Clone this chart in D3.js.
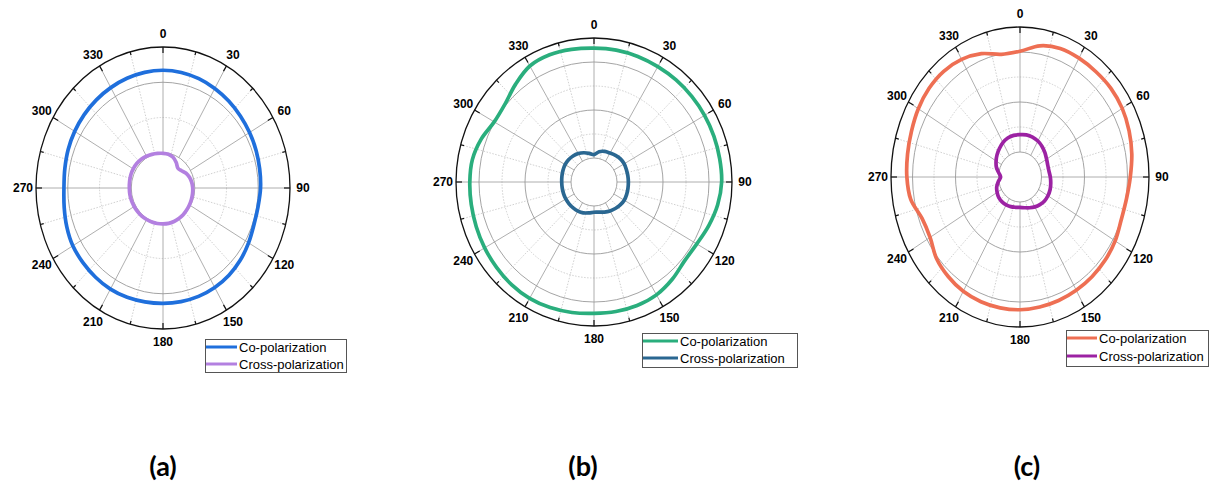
<!DOCTYPE html>
<html>
<head>
<meta charset="utf-8">
<script src="https://cdn.jsdelivr.net/npm/d3@7"></script>
<style>
	body { margin: 0; background: #fff; }
	svg { display: block; }
</style>
</head>
<body>
<svg id="chart" width="1213" height="482"></svg>
<script>
// sample angles (deg, clockwise from top) shared by every trace
const sampleAngles = [0, 10, 20, 30, 40, 50, 60, 70, 80, 90, 100, 110, 120, 130, 140, 150, 160, 170,
	180, 190, 200, 210, 220, 230, 240, 250, 260, 270, 280, 290, 300, 310, 320, 330, 340, 350]

const angleLabels = [0, 30, 60, 90, 120, 150, 180, 210, 240, 270, 300, 330]
const seriesNames = ['Co-polarization', 'Cross-polarization']
const captions = ['(a)', '(b)', '(c)']

// relative radius (outer ring = 1)
const coA = [0.835, 0.832, 0.825, 0.815, 0.805, 0.795, 0.787, 0.780, 0.773, 0.768, 0.760, 0.762,
	0.778, 0.795, 0.808, 0.815, 0.818, 0.818, 0.818, 0.820, 0.825, 0.828, 0.826, 0.823,
	0.820, 0.806, 0.790, 0.780, 0.785, 0.795, 0.803, 0.810, 0.816, 0.822, 0.828, 0.833]
const crossA = [0.246, 0.243, 0.232, 0.208, 0.183, 0.190, 0.210, 0.222, 0.230, 0.234, 0.236, 0.238,
	0.240, 0.243, 0.247, 0.250, 0.253, 0.255, 0.255, 0.256, 0.257, 0.258, 0.260, 0.261,
	0.262, 0.264, 0.265, 0.265, 0.267, 0.270, 0.271, 0.270, 0.266, 0.260, 0.254, 0.249]

const coB = [0.930, 0.930, 0.928, 0.925, 0.925, 0.925, 0.925, 0.925, 0.925, 0.925, 0.910, 0.885,
	0.860, 0.855, 0.882, 0.905, 0.913, 0.913, 0.912, 0.920, 0.928, 0.933, 0.930, 0.922,
	0.915, 0.908, 0.903, 0.900, 0.895, 0.870, 0.835, 0.842, 0.885, 0.930, 0.940, 0.935]
const crossB = [0.190, 0.214, 0.226, 0.232, 0.242, 0.250, 0.253, 0.250, 0.249, 0.249, 0.250, 0.252,
	0.253, 0.248, 0.240, 0.232, 0.222, 0.213, 0.210, 0.218, 0.228, 0.233, 0.235, 0.236,
	0.236, 0.235, 0.234, 0.234, 0.236, 0.239, 0.242, 0.241, 0.236, 0.228, 0.216, 0.202]

const coC = [0.838, 0.888, 0.912, 0.915, 0.916, 0.920, 0.915, 0.900, 0.880, 0.855, 0.838, 0.835,
	0.852, 0.862, 0.868, 0.872, 0.876, 0.880, 0.885, 0.886, 0.885, 0.880, 0.866, 0.845,
	0.805, 0.808, 0.860, 0.877, 0.885, 0.895, 0.910, 0.920, 0.920, 0.905, 0.875, 0.830]
const crossC = [0.282, 0.285, 0.283, 0.277, 0.266, 0.252, 0.238, 0.229, 0.228, 0.235, 0.242, 0.248,
	0.250, 0.248, 0.240, 0.230, 0.218, 0.208, 0.203, 0.205, 0.210, 0.214, 0.216, 0.214,
	0.205, 0.192, 0.170, 0.150, 0.168, 0.195, 0.214, 0.232, 0.248, 0.265, 0.277, 0.282]

// radial grid rings: [radius, solid?]
const ringsA = [[0.25, true], [0.5, false], [0.75, true]]
const ringsBC = [[1 / 6, true], [2 / 6, false], [3 / 6, true], [4 / 6, false], [5 / 6, true]]

const panels = [
	{ cx: 163, cy: 188, rx: 127, ry: 141, rings: ringsA, inner: 0.25, co: coA, cross: crossA,
		colors: ['#1f6fdc', '#b380e0'], legend: { x: 205, y: 339, w: 141, h: 33, len: 32, row: 17 }, capX: 163 },
	{ cx: 594, cy: 182, rx: 138, ry: 144, rings: ringsBC, inner: 1 / 6, co: coB, cross: crossB,
		colors: ['#2aae7d', '#2a6791'], legend: { x: 642, y: 333, w: 155, h: 34, len: 36, row: 17 }, capX: 583 },
	{ cx: 1020, cy: 177, rx: 129, ry: 150, rings: ringsBC, inner: 1 / 6, co: coC, cross: crossC,
		colors: ['#ee6f53', '#9c22a3'], legend: { x: 1066, y: 330, w: 142, h: 36, len: 31, row: 18 }, capX: 1027 }
]

const svg = d3.select('#chart')
const angle = d3.scaleLinear().domain([0, 360]).range([0, 2 * Math.PI])

panels.forEach((p, pi) => {
	const rX = d3.scaleLinear().domain([0, 1]).range([0, p.rx])
	const rY = d3.scaleLinear().domain([0, 1]).range([0, p.ry])
	const px = (a, r) => p.cx + rX(r) * Math.sin(angle(a))
	const py = (a, r) => p.cy - rY(r) * Math.cos(angle(a))

	const g = svg.append('g')

	// rings
	g.selectAll('ellipse.ring')
		.data(p.rings)
		.enter()
		.append('ellipse')
		.attr('cx', p.cx)
		.attr('cy', p.cy)
		.attr('rx', d => rX(d[0]))
		.attr('ry', d => rY(d[0]))
		.style('fill', 'none')
		.style('stroke', d => d[1] ? '#9a9a9a' : '#c4c4c4')
		.style('stroke-width', d => d[1] ? 0.9 : 0.8)
		.style('stroke-dasharray', d => d[1] ? null : '1.5,1.5')

	// spokes, solid every 30 deg and dotted in between
	const spokeAngles = d3.range(0, 360, 15)
	g.selectAll('line.spoke')
		.data(spokeAngles)
		.enter()
		.append('line')
		.attr('x1', d => px(d, p.inner))
		.attr('y1', d => py(d, p.inner))
		.attr('x2', d => px(d, 1))
		.attr('y2', d => py(d, 1))
		.style('stroke', d => d % 30 === 0 ? '#9a9a9a' : '#c4c4c4')
		.style('stroke-width', 0.8)
		.style('stroke-dasharray', d => d % 30 === 0 ? null : '1.5,1.5')

	// outer ring
	g.append('ellipse')
		.attr('cx', p.cx)
		.attr('cy', p.cy)
		.attr('rx', rX(1))
		.attr('ry', rY(1))
		.style('fill', 'none')
		.style('stroke', '#111')
		.style('stroke-width', 1.3)

	// ticks on outer ring
	g.selectAll('line.tick')
		.data(spokeAngles)
		.enter()
		.append('line')
		.attr('x1', d => px(d, 1))
		.attr('y1', d => py(d, 1))
		.attr('x2', d => px(d, 1 - (d % 30 === 0 ? 6 : 3.5) / p.rx))
		.attr('y2', d => py(d, 1 - (d % 30 === 0 ? 6 : 3.5) / p.ry))
		.style('stroke', '#111')
		.style('stroke-width', 1.2)

	// angle labels
	g.selectAll('text.alabel')
		.data(angleLabels)
		.enter()
		.append('text')
		.attr('x', d => p.cx + (p.rx + 13) * Math.sin(angle(d)))
		.attr('y', d => p.cy - (p.ry + 13) * Math.cos(angle(d)))
		.attr('dy', '0.36em')
		.attr('text-anchor', 'middle')
		.style('font-family', '"Liberation Sans", Arial, sans-serif')
		.style('font-weight', 'bold')
		.style('font-size', '12px')
		.text(d => d)

	// traces
	const line = d3.line()
		.x(d => px(d[0], d[1]))
		.y(d => py(d[0], d[1]))
		.curve(d3.curveCatmullRomClosed)

	const series = [p.co, p.cross]
	series.forEach((vals, si) => {
		g.append('path')
			.attr('d', line(sampleAngles.map((a, i) => [a, vals[i]])))
			.style('fill', 'none')
			.style('stroke', p.colors[si])
			.style('stroke-width', 3.7)
			.style('stroke-linejoin', 'round')
	})

	// legend
	const L = p.legend
	const leg = g.append('g')
	leg.append('rect')
		.attr('x', L.x + 0.5)
		.attr('y', L.y + 0.5)
		.attr('width', L.w)
		.attr('height', L.h)
		.style('fill', '#fff')
		.style('stroke', '#555')
		.style('stroke-width', 1)

	const rows = leg.selectAll('g.row')
		.data(seriesNames)
		.enter()
		.append('g')
		.attr('transform', (d, i) => `translate(${L.x}, ${L.y + 8 + i * L.row})`)

	rows.append('line')
		.attr('x1', 1)
		.attr('x2', L.len)
		.style('stroke', (d, i) => p.colors[i])
		.style('stroke-width', 3)

	rows.append('text')
		.attr('x', L.len + 2)
		.attr('dy', '0.36em')
		.style('font-family', '"Liberation Sans", Arial, sans-serif')
		.style('font-size', '13px')
		.text(d => d)

	// caption
	svg.append('text')
		.attr('x', p.capX)
		.attr('y', 476)
		.attr('text-anchor', 'middle')
		.style('font-family', 'Lato, "Open Sans", sans-serif')
		.style('font-weight', 'bold')
		.style('font-size', '27px')
		.text(captions[pi])
})
</script>
</body>
</html>
